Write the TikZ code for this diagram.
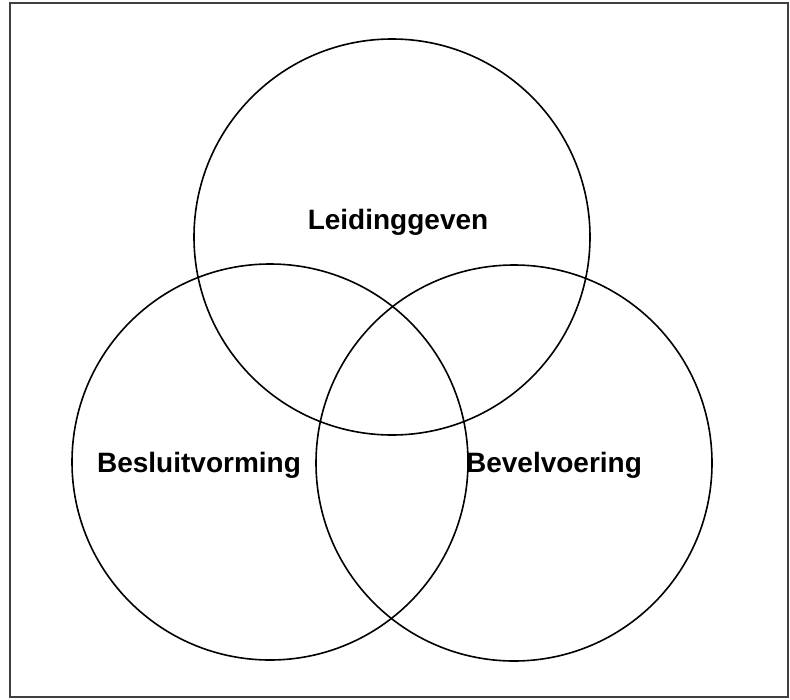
\documentclass[tikz,border=0pt]{standalone}
\usepackage{fontspec}
\setmainfont{Liberation Sans}
\begin{document}
\begin{tikzpicture}[x=1pt,y=-1pt,
  ring/.style={draw=black,line width=1.6pt,circle,minimum size=396pt,inner sep=0pt},
  lbl/.style={font=\fontsize{28}{31}\selectfont\bfseries,anchor=base,inner sep=0pt}]
\useasboundingbox (0,0) rectangle (790,699);
\draw[line width=2pt,black!75] (10,3) rectangle (788,697);
\node[ring] (top) at (392,237) {};
\node[ring] (left) at (270,462) {};
\node[ring] (right) at (514,463) {};
\node[lbl] (l1) at (398,229) {Leidinggeven};
\node[lbl] (l2) at (199,472) {Besluitvorming};
\node[lbl] (l3) at (554,472) {Bevelvoering};
\end{tikzpicture}
\end{document}
